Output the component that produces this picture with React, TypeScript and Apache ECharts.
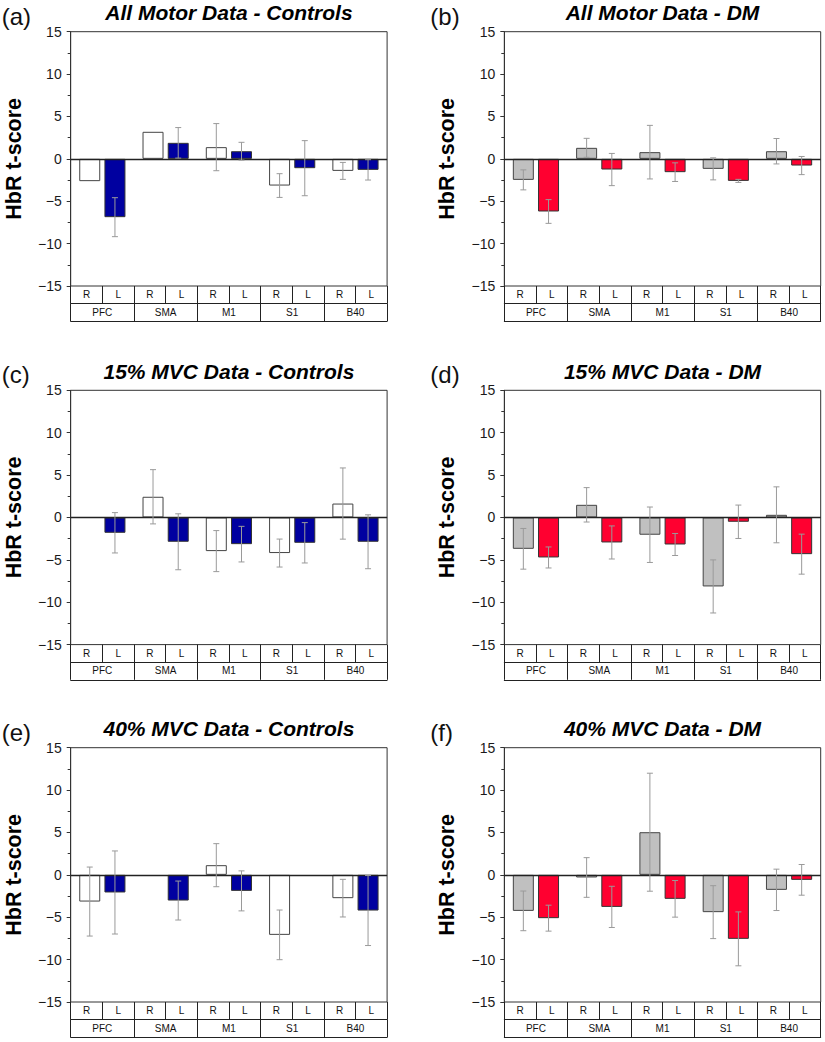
import React, { useEffect, useRef } from "react";
import * as echarts from "echarts";

// ---- Data ----
const REGIONS = ["PFC", "SMA", "M1", "S1", "B40"];
const SIDES = ["R", "L", "R", "L", "R", "L", "R", "L", "R", "L"];
const Y_TICKS = [-15, -10, -5, 0, 5, 10, 15];

// (a) All Motor Data - Controls
const A_R = [-2.63, 3.19, 1.38, -3.15, -1.42];
const A_R_ERR = [null, null, 2.78, 1.4, 1.0];
const A_L = [-6.88, 1.89, 0.9, -1.1, -1.3];
const A_L_ERR = [2.3, 1.8, 1.05, 3.25, 1.2];
// (b) All Motor Data - DM
const B_R = [-2.48, 1.3, 0.79, -1.18, 0.9];
const B_R_ERR = [1.18, 1.12, 3.16, 1.3, 1.5];
const B_L = [-6.21, -1.26, -1.57, -2.6, -0.79];
const B_L_ERR = [1.4, 1.9, 1.1, 0.18, 1.07];
// (c) 15% MVC Data - Controls
const C_R = [null, 2.44, -3.97, -4.2, 1.64];
const C_R_ERR = [null, 3.2, 2.42, 1.65, 4.2];
const C_L = [-1.81, -2.87, -3.15, -2.99, -2.87];
const C_L_ERR = [2.38, 3.3, 2.1, 2.38, 3.18];
// (d) 15% MVC Data - DM
const D_R = [-3.7, 1.49, -2.04, -8.14, 0.31];
const D_R_ERR = [2.4, 2.03, 3.27, 3.13, 3.3];
const D_L = [-4.72, -2.95, -3.19, -0.51, -4.33];
const D_L_ERR = [1.24, 1.95, 1.3, 1.97, 2.36];
// (e) 40% MVC Data - Controls
const E_R = [-3.15, null, 1.14, -7.08, -2.75];
const E_R_ERR = [4.07, null, 2.54, 2.93, 2.22];
const E_L = [-2.08, -3.03, -1.89, null, -4.21];
const E_L_ERR = [4.9, 2.3, 2.36, null, 4.13];
// (f) 40% MVC Data - DM
const F_R = [-4.25, -0.31, 5.03, -4.4, -1.77];
const F_R_ERR = [2.34, 2.34, 6.96, 3.12, 2.44];
const F_L = [-5.11, -3.78, -2.83, -7.55, -0.59];
const F_L_ERR = [1.53, 2.43, 2.16, 3.18, 1.81];

const PANELS = [
  { letter: "(a)", title: "All Motor Data - Controls", r: A_R, rErr: A_R_ERR, l: A_L, lErr: A_L_ERR, dm: false },
  { letter: "(b)", title: "All Motor Data - DM", r: B_R, rErr: B_R_ERR, l: B_L, lErr: B_L_ERR, dm: true },
  { letter: "(c)", title: "15% MVC Data - Controls", r: C_R, rErr: C_R_ERR, l: C_L, lErr: C_L_ERR, dm: false },
  { letter: "(d)", title: "15% MVC Data - DM", r: D_R, rErr: D_R_ERR, l: D_L, lErr: D_L_ERR, dm: true },
  { letter: "(e)", title: "40% MVC Data - Controls", r: E_R, rErr: E_R_ERR, l: E_L, lErr: E_L_ERR, dm: false },
  { letter: "(f)", title: "40% MVC Data - DM", r: F_R, rErr: F_R_ERR, l: F_L, lErr: F_L_ERR, dm: true },
];

// ---- Styles / layout ----
const FONT = '"Liberation Sans", Arial, Helvetica, sans-serif';
const COL_LEFT = [70.7, 504.3];
const LETTER_X = [1.7, 430.3];
const ROW_TOP = [31.7, 390.3, 747.7];
const GRID_W = 316.4;
const GRID_H = 254.3;
const BOX_H = 17.6;
const BAR_W = 21;
const BAR_GAP = 0.2;
const CAP = 3;
const ERR_COLOR = "#9a9a9a";
const AXIS_COLOR = "#333";
const CTRL_R = "#ffffff";
const CTRL_L = "#0000a0";
const DM_R = "#c0c0c0";
const DM_L = "#ff0030";

function buildOption() {
  const grid: any[] = [];
  const xAxis: any[] = [];
  const yAxis: any[] = [];
  const series: any[] = [];
  const graphic: any[] = [];

  PANELS.forEach((p, i) => {
    const col = i % 2;
    const row = Math.floor(i / 2);
    const left = COL_LEFT[col];
    const top = ROW_TOP[row];
    grid.push({
      left,
      top,
      width: GRID_W,
      height: GRID_H,
      show: true,
      borderColor: AXIS_COLOR,
      borderWidth: 1,
      backgroundColor: "transparent",
    });
    const boxAxis = (data: string[], offset: number) => ({
      type: "category",
      gridIndex: i,
      data,
      position: "bottom",
      offset,
      boundaryGap: true,
      axisLine: { show: true, onZero: false, lineStyle: { color: "#222", width: 1 } },
      axisTick: { show: true, inside: true, length: BOX_H, interval: 0, alignWithLabel: false, lineStyle: { color: "#222", width: 1 } },
      axisLabel: { show: true, inside: true, margin: 4, interval: 0, fontSize: 10, color: "#111", fontFamily: FONT },
      splitLine: { show: false },
    });
    // region axis (bars use this one)
    xAxis.push(boxAxis(REGIONS, BOX_H * 2));
    // side axis
    xAxis.push(boxAxis(SIDES, BOX_H));

    yAxis.push({
      type: "value",
      gridIndex: i,
      min: -15,
      max: 15,
      interval: 5,
      name: "HbR t-score",
      nameLocation: "middle",
      nameGap: 46,
      nameTextStyle: { fontSize: 21.5, fontWeight: "bold", color: "#000", fontFamily: FONT },
      axisLine: { show: true, lineStyle: { color: AXIS_COLOR, width: 1 } },
      axisTick: { show: true, inside: false, length: 4, lineStyle: { color: AXIS_COLOR } },
      minorTick: { show: true, splitNumber: 2, length: 3, lineStyle: { color: AXIS_COLOR } },
      axisLabel: {
        margin: 9,
        fontSize: 14,
        color: "#1a1a1a",
        fontFamily: FONT,
        formatter: (v: number) => (Y_TICKS.includes(v) ? (v < 0 ? "\u2212" + Math.abs(v) : String(v)) : ""),
      },
      splitLine: { show: false },
      minorSplitLine: { show: false },
    });

    const xi = i * 2;
    const barCommon = {
      type: "bar",
      xAxisIndex: xi,
      yAxisIndex: i,
      barWidth: BAR_W,
      barGap: BAR_GAP * 100 + "%",
      silent: true,
    };
    series.push({
      ...barCommon,
      name: "R" + i,
      data: p.r.map((v) => (v === null ? "-" : v)),
      itemStyle: { color: p.dm ? DM_R : CTRL_R, borderColor: "#444", borderWidth: 1 },
      markLine: {
        silent: true,
        symbol: ["none", "none"],
        label: { show: false },
        lineStyle: { color: "#222", width: 1.3, type: "solid" },
        data: [{ yAxis: 0 }],
      },
    });
    series.push({
      ...barCommon,
      name: "L" + i,
      data: p.l.map((v) => (v === null ? "-" : v)),
      itemStyle: { color: p.dm ? DM_L : CTRL_L, borderColor: "#333", borderWidth: 1 },
    });

    const errData: any[] = [];
    p.r.forEach((v, k) => {
      const e = p.rErr[k];
      if (v !== null && e !== null) errData.push([k, v, e, -1]);
    });
    p.l.forEach((v, k) => {
      const e = p.lErr[k];
      if (v !== null && e !== null) errData.push([k, v, e, 1]);
    });
    series.push({
      type: "custom",
      xAxisIndex: xi,
      yAxisIndex: i,
      silent: true,
      encode: { x: 0, y: 1 },
      data: errData,
      z: 5,
      renderItem: (params: any, api: any) => {
        const cat = api.value(0);
        const v = api.value(1);
        const e = api.value(2);
        const side = api.value(3);
        const hi = api.coord([cat, v + e]);
        const lo = api.coord([cat, v - e]);
        const x = hi[0] + (side * BAR_W * (1 + BAR_GAP)) / 2;
        const style = { stroke: ERR_COLOR, lineWidth: 1 };
        return {
          type: "group",
          children: [
            { type: "line", shape: { x1: x, y1: hi[1], x2: x, y2: lo[1] }, style },
            { type: "line", shape: { x1: x - CAP, y1: hi[1], x2: x + CAP, y2: hi[1] }, style },
            { type: "line", shape: { x1: x - CAP, y1: lo[1], x2: x + CAP, y2: lo[1] }, style },
          ],
        };
      },
    });

    graphic.push({
      type: "text",
      x: LETTER_X[col],
      y: top - 15.5,
      style: { text: p.letter, font: `24px ${FONT}`, fill: "#111", textAlign: "left", textVerticalAlign: "middle" },
    });
    graphic.push({
      type: "text",
      x: left + GRID_W / 2,
      y: top - 19,
      style: { text: p.title, font: `italic bold 21px ${FONT}`, fill: "#000", textAlign: "center", textVerticalAlign: "middle" },
    });
  });

  return {
    animation: false,
    backgroundColor: "#ffffff",
    textStyle: { fontFamily: FONT },
    grid,
    xAxis,
    yAxis,
    series,
    graphic,
  };
}

export default function App() {
  const ref = useRef<HTMLDivElement>(null);
  useEffect(() => {
    if (!ref.current) return;
    const chart = echarts.init(ref.current, null, { renderer: "svg" });
    chart.setOption(buildOption() as any);
    return () => chart.dispose();
  }, []);
  return (
    <div
      ref={ref}
      style={{ position: "absolute", left: 0, top: 0, width: 825, height: 1042, background: "#fff" }}
    />
  );
}
